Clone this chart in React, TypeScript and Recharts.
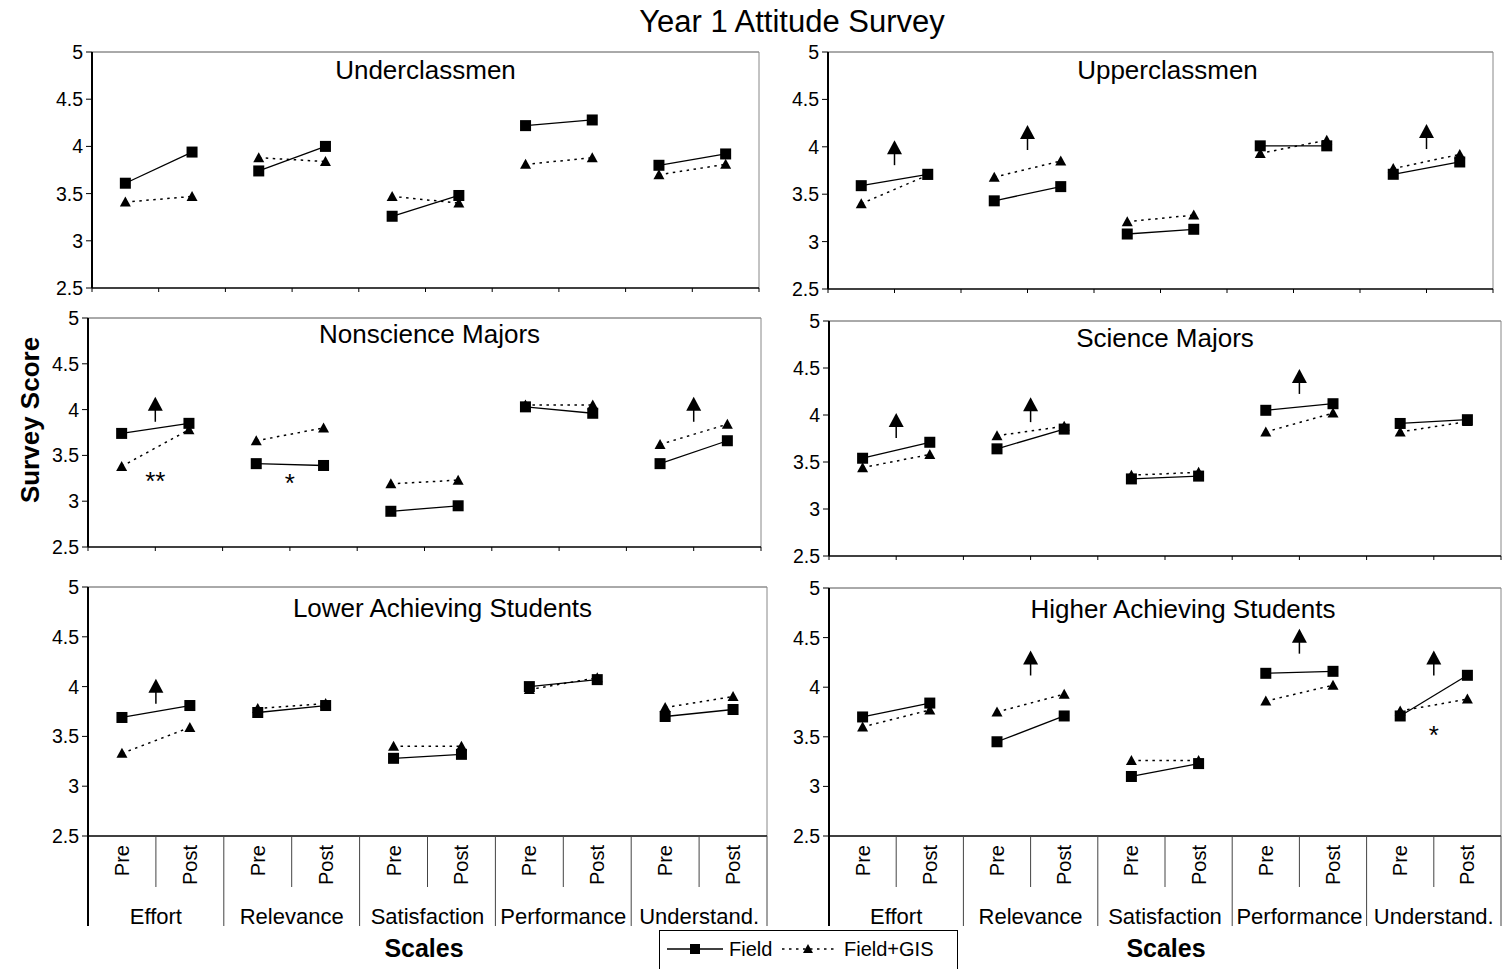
import React from "react";
import { LineChart, Line, XAxis, YAxis, ReferenceLine, ReferenceDot } from "recharts";

const scales = ["Effort", "Relevance", "Satisfaction", "Performance", "Understand."];
const phases = ["Pre", "Post"];
const yTicks = [2.5, 3, 3.5, 4, 4.5, 5];
const plainTicks = [0, 1, 2, 3, 4, 5, 6, 7, 8, 9, 10];
const labelTicks = [0, 0.5, 1, 1.5, 2, 2.5, 3, 3.5, 4, 4.5, 5, 5.5, 6, 6.5, 7, 7.5, 8, 8.5, 9, 9.5, 10];

// order: Effort pre, post, Relevance pre, post, Satisfaction ..., Performance ..., Understand. ...
const underField = [3.61, 3.94, 3.74, 4.0, 3.26, 3.48, 4.22, 4.28, 3.8, 3.92];
const underGis = [3.41, 3.47, 3.88, 3.84, 3.47, 3.4, 3.81, 3.88, 3.7, 3.81];
const upperField = [3.59, 3.71, 3.43, 3.58, 3.08, 3.13, 4.01, 4.01, 3.71, 3.84];
const upperGis = [3.4, 3.7, 3.68, 3.85, 3.21, 3.28, 3.93, 4.07, 3.77, 3.92];
const nonsciField = [3.74, 3.85, 3.41, 3.39, 2.89, 2.95, 4.03, 3.96, 3.41, 3.66];
const nonsciGis = [3.38, 3.78, 3.66, 3.8, 3.19, 3.23, 4.05, 4.05, 3.62, 3.84];
const sciField = [3.54, 3.71, 3.64, 3.85, 3.32, 3.35, 4.05, 4.12, 3.91, 3.95];
const sciGis = [3.44, 3.58, 3.78, 3.88, 3.36, 3.39, 3.82, 4.02, 3.82, 3.93];
const lowerField = [3.69, 3.81, 3.74, 3.81, 3.28, 3.32, 4.0, 4.07, 3.7, 3.77];
const lowerGis = [3.33, 3.59, 3.78, 3.83, 3.4, 3.4, 3.97, 4.09, 3.79, 3.9];
const higherField = [3.7, 3.84, 3.45, 3.71, 3.1, 3.23, 4.14, 4.16, 3.71, 4.12];
const higherGis = [3.6, 3.77, 3.75, 3.93, 3.26, 3.26, 3.86, 4.02, 3.76, 3.88];

// significance arrows: [scale index, arrow tip value]
const upperArrows = [[0, 4.07], [1, 4.23], [4, 4.24]];
const nonsciArrows = [[0, 4.14], [4, 4.14]];
const sciArrows = [[0, 4.02], [1, 4.19], [3, 4.49]];
const lowerArrows = [[0, 4.08]];
const higherArrows = [[1, 4.37], [3, 4.59], [4, 4.37]];

// asterisks: [scale index, mark, value]
const nonsciStars: [number, string, number][] = [[0, "**", 3.28], [1, "*", 3.25]];
const higherStars: [number, string, number][] = [[4, "*", 3.57]];

const FONT = '"Liberation Sans", Arial, sans-serif';

function buildRows(field: number[], gis: number[]) {
  return field.map((v, i) => {
    const s = Math.floor(i / 2);
    const row: any = { x: i + 0.5 };
    scales.forEach((_, k) => {
      row[`f${k}`] = k === s ? v : null;
      row[`g${k}`] = k === s ? gis[i] : null;
    });
    return row;
  });
}

const Square = (p: any) => {
  if (p.cx == null || p.cy == null || p.value == null) return <g key={`s${p.index}`} />;
  return <rect key={`s${p.index}`} x={p.cx - 5.5} y={p.cy - 5.5} width={11} height={11} fill="#000" />;
};

const Triangle = (p: any) => {
  if (p.cx == null || p.cy == null || p.value == null) return <g key={`t${p.index}`} />;
  const { cx, cy } = p;
  return (
    <polygon key={`t${p.index}`} points={`${cx},${cy - 5.5} ${cx + 5.5},${cy + 4.5} ${cx - 5.5},${cy + 4.5}`} fill="#000" />
  );
};

const Arrow = (p: any) => (
  <g>
    <polygon points={`${p.cx},${p.cy} ${p.cx + 7.5},${p.cy + 14} ${p.cx - 7.5},${p.cy + 14}`} fill="#000" />
    <line x1={p.cx} y1={p.cy + 13} x2={p.cx} y2={p.cy + 25} stroke="#000" strokeWidth={1.5} />
  </g>
);

const ScaleTick = (p: any) => {
  const { x, y, payload, labelled } = p;
  const v = payload.value;
  if (!labelled) return <line x1={x} y1={y} x2={x} y2={y + 4} stroke="#000" />;
  if (Number.isInteger(v)) {
    const major = v % 2 === 0;
    return (
      <g>
        <line x1={x} y1={y} x2={x} y2={y + (major ? 90 : 51)} stroke={v === 0 ? "#000" : "#444"} strokeWidth={v === 0 ? 2 : 1} />
        {!major && (
          <text x={x} y={y + 88} textAnchor="middle" fontSize={22} fill="#000">
            {scales[(v - 1) / 2]}
          </text>
        )}
      </g>
    );
  }
  return (
    <text transform={`rotate(-90 ${x} ${y + 9})`} x={x} y={y + 9} textAnchor="end" dominantBaseline="central" fontSize={20} fill="#000">
      {phases[Math.floor(v) % 2]}
    </text>
  );
};

type PanelProps = {
  title: string;
  field: number[];
  gis: number[];
  rect: [number, number, number, number];
  titleDx?: number;
  titleDy: number;
  arrows?: number[][];
  stars?: [number, string, number][];
  labelled?: boolean;
};

const YW = 50;
const MT = 14;
const MR = 6;

const Panel = ({ title, field, gis, rect, titleDx = 0, titleDy, arrows = [], stars = [], labelled = false }: PanelProps) => {
  const [x0, x1, y0, y1] = rect;
  const xh = labelled ? 100 : 16;
  const left = x0 - YW;
  const top = y0 - MT;
  const width = x1 - left + MR;
  const height = y1 - top + xh;
  const rows = buildRows(field, gis);
  return (
    <>
      <div style={{ position: "absolute", left, top }}>
        <LineChart width={width} height={height} data={rows} margin={{ top: MT, right: MR, left: 0, bottom: 0 }}>
          <XAxis
            type="number"
            dataKey="x"
            domain={[0, 10]}
            ticks={labelled ? labelTicks : plainTicks}
            interval={0}
            height={xh}
            tickSize={0}
            tickMargin={0}
            axisLine={{ stroke: "#000", strokeWidth: 1.5 }}
            tickLine={false}
            tick={(tp: any) => <ScaleTick {...tp} labelled={labelled} />}
          />
          <YAxis
            domain={[2.5, 5]}
            ticks={yTicks}
            interval={0}
            width={YW}
            tickSize={6}
            tickMargin={3}
            axisLine={{ stroke: "#000", strokeWidth: 2 }}
            tickLine={{ stroke: "#000" }}
            tick={{ fill: "#000", fontSize: 19.5, fontFamily: FONT }}
          />
          <ReferenceLine y={5} stroke="#555" strokeWidth={1} />
          <ReferenceLine x={10} stroke="#888" strokeWidth={1} />
          {scales.map((_, k) => (
            <Line
              key={`f${k}`}
              dataKey={`f${k}`}
              stroke="#000"
              strokeWidth={1.3}
              dot={Square}
              activeDot={false}
              connectNulls={false}
              isAnimationActive={false}
            />
          ))}
          {scales.map((_, k) => (
            <Line
              key={`g${k}`}
              dataKey={`g${k}`}
              stroke="#000"
              strokeWidth={1.5}
              strokeDasharray="2.5 4.5"
              dot={Triangle}
              activeDot={false}
              connectNulls={false}
              isAnimationActive={false}
            />
          ))}
          {arrows.map(([s, v]) => (
            <ReferenceDot key={`a${s}`} x={2 * s + 1} y={v} r={0} shape={(sp: any) => <Arrow {...sp} />} />
          ))}
          {stars.map(([s, mark, v]) => (
            <ReferenceDot
              key={`st${s}`}
              x={2 * s + 1}
              y={v}
              r={0}
              shape={(sp: any) => (
                <text x={sp.cx} y={sp.cy + 14} textAnchor="middle" fontSize={26} fill="#000">
                  {mark}
                </text>
              )}
            />
          ))}
        </LineChart>
      </div>
      <div
        style={{
          position: "absolute",
          left: x0 + titleDx,
          width: x1 - x0,
          top: y0 + titleDy - 16,
          height: 32,
          lineHeight: "32px",
          textAlign: "center",
          fontSize: 26,
        }}
      >
        {title}
      </div>
    </>
  );
};

const Legend = () => (
  <svg style={{ position: "absolute", left: 659, top: 930 }} width={299} height={45}>
    <rect x={0.5} y={0.5} width={298} height={50} fill="#fff" stroke="#000" />
    <line x1={8} y1={19} x2={64} y2={19} stroke="#000" strokeWidth={1.3} />
    <rect x={31} y={14} width={10} height={10} fill="#000" />
    <text x={70} y={26} fontSize={20} fill="#000">Field</text>
    <line x1={123} y1={19} x2={176} y2={19} stroke="#000" strokeWidth={1.5} strokeDasharray="2.5 4.5" />
    <polygon points="149,14 154,23 144,23" fill="#000" />
    <text x={185} y={26} fontSize={20} fill="#000">Field+GIS</text>
  </svg>
);

export default function App() {
  return (
    <div
      style={{
        position: "absolute",
        left: 0,
        top: 0,
        width: 1504,
        height: 969,
        overflow: "hidden",
        background: "#fff",
        fontFamily: FONT,
        color: "#000",
      }}
    >
      <div style={{ position: "absolute", left: 542, width: 500, top: 5, textAlign: "center", fontSize: 31, lineHeight: "34px" }}>
        Year 1 Attitude Survey
      </div>
      <div
        style={{
          position: "absolute",
          left: 30 - 110,
          top: 420 - 17,
          width: 220,
          height: 34,
          lineHeight: "34px",
          textAlign: "center",
          fontSize: 26,
          fontWeight: "bold",
          transform: "rotate(-90deg)",
        }}
      >
        Survey Score
      </div>
      <Panel title="Underclassmen" field={underField} gis={underGis} rect={[92, 759, 52, 288]} titleDy={18} />
      <Panel title="Upperclassmen" field={upperField} gis={upperGis} rect={[828, 1493, 52, 289]} titleDx={7} titleDy={18} arrows={upperArrows} />
      <Panel title="Nonscience Majors" field={nonsciField} gis={nonsciGis} rect={[88, 761, 318, 547]} titleDx={5} titleDy={16} arrows={nonsciArrows} stars={nonsciStars} />
      <Panel title="Science Majors" field={sciField} gis={sciGis} rect={[829, 1501, 321, 556]} titleDy={17} arrows={sciArrows} />
      <Panel title="Lower Achieving Students" field={lowerField} gis={lowerGis} rect={[88, 767, 587, 836]} titleDx={15} titleDy={21} arrows={lowerArrows} labelled />
      <Panel title="Higher Achieving Students" field={higherField} gis={higherGis} rect={[829, 1501, 588, 836]} titleDx={18} titleDy={21} arrows={higherArrows} stars={higherStars} labelled />
      <div style={{ position: "absolute", left: 324, width: 200, top: 932, textAlign: "center", fontSize: 25, fontWeight: "bold", lineHeight: "32px" }}>
        Scales
      </div>
      <div style={{ position: "absolute", left: 1066, width: 200, top: 932, textAlign: "center", fontSize: 25, fontWeight: "bold", lineHeight: "32px" }}>
        Scales
      </div>
      <Legend />
    </div>
  );
}
